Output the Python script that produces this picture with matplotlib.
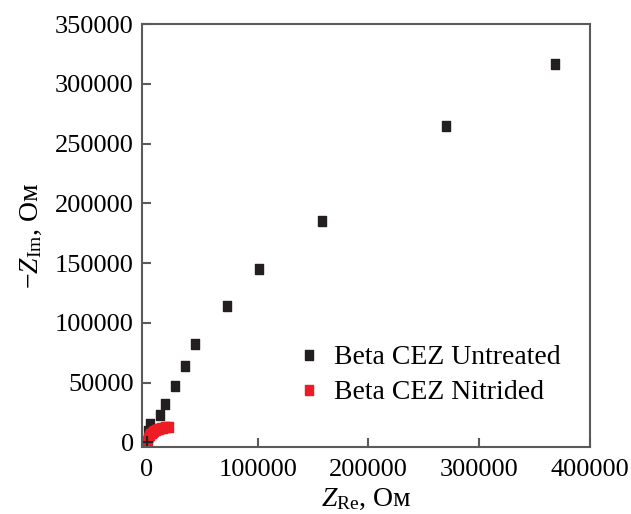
import matplotlib
matplotlib.use('Agg')
import matplotlib.pyplot as plt

# =====================
# DATA
# =====================
untreated_re = [368400, 270000, 158000, 101100, 72000, 43000, 34300, 25300, 16200, 11700, 2700, 800]
untreated_im = [316300, 265000, 185500, 145300, 114400, 82600, 64200, 47500, 32400, 23200, 15500, 9900]

nitrided_re = [200, 400, 700, 1100, 1600, 2300, 3100, 4100, 5200, 6500, 8000, 9600,
               11300, 13000, 14800, 16600, 18500, 20000]
nitrided_im = [300, 1200, 2400, 3700, 5000, 6200, 7300, 8200, 9000, 9700, 10400, 11000,
               11500, 12000, 12400, 12700, 13000, 13200]

origin_re = [0]
origin_im = [0]

x_ticks = [0, 100000, 200000, 300000, 400000]
y_ticks = [0, 50000, 100000, 150000, 200000, 250000, 300000, 350000]

# =====================
# STYLE
# =====================
plt.rcParams['font.family'] = ['Liberation Serif', 'DejaVu Serif']
plt.rcParams['mathtext.fontset'] = 'custom'
plt.rcParams['mathtext.rm'] = 'Liberation Serif'
plt.rcParams['mathtext.it'] = 'Liberation Serif:italic'

spine_col = '#5a5a5a'
rect = [(-0.4, -0.5), (0.4, -0.5), (0.4, 0.5), (-0.4, 0.5), (-0.4, -0.5)]

fig = plt.figure(figsize=(6.31, 5.14), dpi=100)
ax = fig.add_axes([142/631, 1 - 447/514, 448/631, 423/514])

ax.plot(untreated_re, untreated_im, linestyle='none', marker=rect, markersize=7.4,
        color='#231f20', label='Beta CEZ Untreated')
ax.plot(nitrided_re, nitrided_im, linestyle='none', marker=rect, markersize=7.4,
        color='#ed1c24', label='Beta CEZ Nitrided')
ax.plot(origin_re, origin_im, linestyle='none', marker='+', markersize=8,
        markeredgewidth=1.5, color='#231f20')

ax.set_xlim(-4500, 400000)
ax.set_ylim(-3800, 350000)
ax.set_xticks(x_ticks)
ax.set_yticks(y_ticks)

for s in ax.spines.values():
    s.set_color(spine_col)
    s.set_linewidth(1.5)

ax.tick_params(direction='in', length=6.5, width=1.5, color=spine_col,
               labelsize=19, top=False, right=False)
ax.tick_params(axis='x', pad=9)
ax.tick_params(axis='y', pad=6)

ax.set_xlabel(r'$Z_{\rm Re}$, Ом', fontsize=20, labelpad=4)
ax.set_ylabel(r'$-Z_{\rm Im}$, Ом', fontsize=20, labelpad=8)

ax.legend(loc='center left', bbox_to_anchor=(0.33, 0.17), frameon=False,
          fontsize=20, handlelength=0.6, handletextpad=0.6, labelspacing=0.35,
          borderaxespad=0)

fig.savefig('out.png', dpi=100)
